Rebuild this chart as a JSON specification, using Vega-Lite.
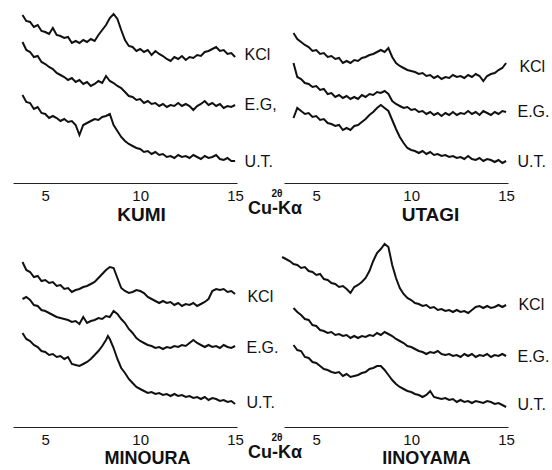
{
  "$schema": "https://vega.github.io/schema/vega-lite/v6.json",
  "padding": {"left": 13, "top": 5, "right": 0, "bottom": 0},
  "background": "white",
  "bounds": "flush",
  "columns": 2,
  "spacing": {"row": 66, "column": 47},
  "config": {
    "view": {"stroke": null},
    "font": "Liberation Sans",
    "axisX": {
      "ticks": false,
      "grid": false,
      "domainColor": "#222",
      "domainWidth": 1.2,
      "labelFontSize": 15,
      "labelColor": "#111",
      "labelPadding": 5,
      "titleFontSize": 19,
      "titleFontWeight": "bold",
      "titleColor": "#111",
      "titleBaseline": "top",
      "titleAlign": "center",
      "titleAnchor": "start"
    }
  },
  "datasets": {
    "kumi": [
      {"t":"KCl","x":3.8,"y":168},{"t":"KCl","x":4.0,"y":162},{"t":"KCl","x":4.2,"y":161},{"t":"KCl","x":4.4,"y":156},{"t":"KCl","x":4.6,"y":158},{"t":"KCl","x":4.8,"y":152},{"t":"KCl","x":5.0,"y":151},{"t":"KCl","x":5.2,"y":149},{"t":"KCl","x":5.4,"y":155},{"t":"KCl","x":5.6,"y":148},{"t":"KCl","x":5.8,"y":147},{"t":"KCl","x":6.0,"y":145},{"t":"KCl","x":6.2,"y":146},{"t":"KCl","x":6.4,"y":140},{"t":"KCl","x":6.6,"y":142},{"t":"KCl","x":6.8,"y":140},{"t":"KCl","x":7.0,"y":143},{"t":"KCl","x":7.2,"y":141},{"t":"KCl","x":7.4,"y":144},{"t":"KCl","x":7.6,"y":142},{"t":"KCl","x":7.8,"y":148},{"t":"KCl","x":8.0,"y":153},{"t":"KCl","x":8.2,"y":158},{"t":"KCl","x":8.4,"y":165},{"t":"KCl","x":8.6,"y":169},{"t":"KCl","x":8.8,"y":164},{"t":"KCl","x":9.0,"y":153},{"t":"KCl","x":9.2,"y":143},{"t":"KCl","x":9.4,"y":137},{"t":"KCl","x":9.6,"y":136},{"t":"KCl","x":9.8,"y":132},{"t":"KCl","x":10.0,"y":134},{"t":"KCl","x":10.2,"y":131},{"t":"KCl","x":10.4,"y":133},{"t":"KCl","x":10.6,"y":128},{"t":"KCl","x":10.8,"y":132},{"t":"KCl","x":11.0,"y":129},{"t":"KCl","x":11.2,"y":127},{"t":"KCl","x":11.4,"y":124},{"t":"KCl","x":11.6,"y":122},{"t":"KCl","x":11.8,"y":126},{"t":"KCl","x":12.0,"y":124},{"t":"KCl","x":12.2,"y":127},{"t":"KCl","x":12.4,"y":123},{"t":"KCl","x":12.6,"y":126},{"t":"KCl","x":12.8,"y":125},{"t":"KCl","x":13.0,"y":128},{"t":"KCl","x":13.2,"y":127},{"t":"KCl","x":13.4,"y":131},{"t":"KCl","x":13.6,"y":132},{"t":"KCl","x":13.8,"y":134},{"t":"KCl","x":14.0,"y":136},{"t":"KCl","x":14.2,"y":132},{"t":"KCl","x":14.4,"y":133},{"t":"KCl","x":14.6,"y":129},{"t":"KCl","x":14.8,"y":130},{"t":"KCl","x":15.0,"y":126},
      {"t":"EG","x":3.8,"y":141},{"t":"EG","x":4.0,"y":133},{"t":"EG","x":4.2,"y":131},{"t":"EG","x":4.4,"y":126},{"t":"EG","x":4.6,"y":127},{"t":"EG","x":4.8,"y":121},{"t":"EG","x":5.0,"y":119},{"t":"EG","x":5.2,"y":116},{"t":"EG","x":5.4,"y":114},{"t":"EG","x":5.6,"y":110},{"t":"EG","x":5.8,"y":108},{"t":"EG","x":6.0,"y":106},{"t":"EG","x":6.2,"y":103},{"t":"EG","x":6.4,"y":105},{"t":"EG","x":6.6,"y":101},{"t":"EG","x":6.8,"y":103},{"t":"EG","x":7.0,"y":99},{"t":"EG","x":7.2,"y":101},{"t":"EG","x":7.4,"y":97},{"t":"EG","x":7.6,"y":99},{"t":"EG","x":7.8,"y":102},{"t":"EG","x":8.0,"y":100},{"t":"EG","x":8.2,"y":107},{"t":"EG","x":8.4,"y":102},{"t":"EG","x":8.6,"y":100},{"t":"EG","x":8.8,"y":97},{"t":"EG","x":9.0,"y":95},{"t":"EG","x":9.2,"y":91},{"t":"EG","x":9.4,"y":87},{"t":"EG","x":9.6,"y":86},{"t":"EG","x":9.8,"y":83},{"t":"EG","x":10.0,"y":84},{"t":"EG","x":10.2,"y":80},{"t":"EG","x":10.4,"y":82},{"t":"EG","x":10.6,"y":79},{"t":"EG","x":10.8,"y":80},{"t":"EG","x":11.0,"y":77},{"t":"EG","x":11.2,"y":79},{"t":"EG","x":11.4,"y":76},{"t":"EG","x":11.6,"y":78},{"t":"EG","x":11.8,"y":77},{"t":"EG","x":12.0,"y":80},{"t":"EG","x":12.2,"y":77},{"t":"EG","x":12.4,"y":79},{"t":"EG","x":12.6,"y":77},{"t":"EG","x":12.8,"y":73},{"t":"EG","x":13.0,"y":77},{"t":"EG","x":13.2,"y":79},{"t":"EG","x":13.4,"y":82},{"t":"EG","x":13.6,"y":78},{"t":"EG","x":13.8,"y":80},{"t":"EG","x":14.0,"y":77},{"t":"EG","x":14.2,"y":79},{"t":"EG","x":14.4,"y":75},{"t":"EG","x":14.6,"y":77},{"t":"EG","x":14.8,"y":76},{"t":"EG","x":15.0,"y":78},
      {"t":"UT","x":3.8,"y":88},{"t":"UT","x":4.0,"y":81},{"t":"UT","x":4.2,"y":80},{"t":"UT","x":4.4,"y":74},{"t":"UT","x":4.6,"y":76},{"t":"UT","x":4.8,"y":70},{"t":"UT","x":5.0,"y":69},{"t":"UT","x":5.2,"y":65},{"t":"UT","x":5.4,"y":67},{"t":"UT","x":5.6,"y":65},{"t":"UT","x":5.8,"y":62},{"t":"UT","x":6.0,"y":64},{"t":"UT","x":6.2,"y":61},{"t":"UT","x":6.4,"y":62},{"t":"UT","x":6.6,"y":58},{"t":"UT","x":6.8,"y":48},{"t":"UT","x":7.0,"y":58},{"t":"UT","x":7.2,"y":60},{"t":"UT","x":7.4,"y":62},{"t":"UT","x":7.6,"y":64},{"t":"UT","x":7.8,"y":63},{"t":"UT","x":8.0,"y":66},{"t":"UT","x":8.2,"y":67},{"t":"UT","x":8.4,"y":69},{"t":"UT","x":8.6,"y":58},{"t":"UT","x":8.8,"y":52},{"t":"UT","x":9.0,"y":46},{"t":"UT","x":9.2,"y":42},{"t":"UT","x":9.4,"y":39},{"t":"UT","x":9.6,"y":37},{"t":"UT","x":9.8,"y":35},{"t":"UT","x":10.0,"y":34},{"t":"UT","x":10.2,"y":31},{"t":"UT","x":10.4,"y":32},{"t":"UT","x":10.6,"y":29},{"t":"UT","x":10.8,"y":31},{"t":"UT","x":11.0,"y":28},{"t":"UT","x":11.2,"y":29},{"t":"UT","x":11.4,"y":26},{"t":"UT","x":11.6,"y":27},{"t":"UT","x":11.8,"y":25},{"t":"UT","x":12.0,"y":28},{"t":"UT","x":12.2,"y":26},{"t":"UT","x":12.4,"y":27},{"t":"UT","x":12.6,"y":25},{"t":"UT","x":12.8,"y":28},{"t":"UT","x":13.0,"y":26},{"t":"UT","x":13.2,"y":24},{"t":"UT","x":13.4,"y":27},{"t":"UT","x":13.6,"y":25},{"t":"UT","x":13.8,"y":26},{"t":"UT","x":14.0,"y":28},{"t":"UT","x":14.2,"y":24},{"t":"UT","x":14.4,"y":23},{"t":"UT","x":14.6,"y":25},{"t":"UT","x":14.8,"y":22},{"t":"UT","x":15.0,"y":22}
    ],
    "utagi": [
      {"t":"KCl","x":3.8,"y":150},{"t":"KCl","x":4.0,"y":144},{"t":"KCl","x":4.2,"y":141},{"t":"KCl","x":4.4,"y":138},{"t":"KCl","x":4.6,"y":136},{"t":"KCl","x":4.8,"y":132},{"t":"KCl","x":5.0,"y":133},{"t":"KCl","x":5.2,"y":129},{"t":"KCl","x":5.4,"y":130},{"t":"KCl","x":5.6,"y":126},{"t":"KCl","x":5.8,"y":127},{"t":"KCl","x":6.0,"y":124},{"t":"KCl","x":6.2,"y":125},{"t":"KCl","x":6.4,"y":120},{"t":"KCl","x":6.6,"y":122},{"t":"KCl","x":6.8,"y":120},{"t":"KCl","x":7.0,"y":123},{"t":"KCl","x":7.2,"y":122},{"t":"KCl","x":7.4,"y":125},{"t":"KCl","x":7.6,"y":126},{"t":"KCl","x":7.8,"y":128},{"t":"KCl","x":8.0,"y":129},{"t":"KCl","x":8.2,"y":131},{"t":"KCl","x":8.4,"y":133},{"t":"KCl","x":8.6,"y":131},{"t":"KCl","x":8.8,"y":135},{"t":"KCl","x":9.0,"y":126},{"t":"KCl","x":9.2,"y":120},{"t":"KCl","x":9.4,"y":117},{"t":"KCl","x":9.6,"y":115},{"t":"KCl","x":9.8,"y":113},{"t":"KCl","x":10.0,"y":112},{"t":"KCl","x":10.2,"y":111},{"t":"KCl","x":10.4,"y":109},{"t":"KCl","x":10.6,"y":110},{"t":"KCl","x":10.8,"y":107},{"t":"KCl","x":11.0,"y":108},{"t":"KCl","x":11.2,"y":105},{"t":"KCl","x":11.4,"y":107},{"t":"KCl","x":11.6,"y":104},{"t":"KCl","x":11.8,"y":106},{"t":"KCl","x":12.0,"y":105},{"t":"KCl","x":12.2,"y":108},{"t":"KCl","x":12.4,"y":106},{"t":"KCl","x":12.6,"y":107},{"t":"KCl","x":12.8,"y":105},{"t":"KCl","x":13.0,"y":108},{"t":"KCl","x":13.2,"y":106},{"t":"KCl","x":13.4,"y":109},{"t":"KCl","x":13.6,"y":107},{"t":"KCl","x":13.8,"y":102},{"t":"KCl","x":14.0,"y":107},{"t":"KCl","x":14.2,"y":109},{"t":"KCl","x":14.4,"y":110},{"t":"KCl","x":14.6,"y":113},{"t":"KCl","x":14.8,"y":115},{"t":"KCl","x":15.0,"y":120},
      {"t":"EG","x":3.8,"y":120},{"t":"EG","x":4.0,"y":106},{"t":"EG","x":4.2,"y":104},{"t":"EG","x":4.4,"y":100},{"t":"EG","x":4.6,"y":99},{"t":"EG","x":4.8,"y":96},{"t":"EG","x":5.0,"y":97},{"t":"EG","x":5.2,"y":93},{"t":"EG","x":5.4,"y":94},{"t":"EG","x":5.6,"y":89},{"t":"EG","x":5.8,"y":90},{"t":"EG","x":6.0,"y":86},{"t":"EG","x":6.2,"y":88},{"t":"EG","x":6.4,"y":85},{"t":"EG","x":6.6,"y":87},{"t":"EG","x":6.8,"y":84},{"t":"EG","x":7.0,"y":86},{"t":"EG","x":7.2,"y":84},{"t":"EG","x":7.4,"y":88},{"t":"EG","x":7.6,"y":86},{"t":"EG","x":7.8,"y":89},{"t":"EG","x":8.0,"y":88},{"t":"EG","x":8.2,"y":91},{"t":"EG","x":8.4,"y":90},{"t":"EG","x":8.6,"y":92},{"t":"EG","x":8.8,"y":89},{"t":"EG","x":9.0,"y":82},{"t":"EG","x":9.2,"y":79},{"t":"EG","x":9.4,"y":77},{"t":"EG","x":9.6,"y":75},{"t":"EG","x":9.8,"y":76},{"t":"EG","x":10.0,"y":73},{"t":"EG","x":10.2,"y":74},{"t":"EG","x":10.4,"y":71},{"t":"EG","x":10.6,"y":72},{"t":"EG","x":10.8,"y":69},{"t":"EG","x":11.0,"y":71},{"t":"EG","x":11.2,"y":68},{"t":"EG","x":11.4,"y":70},{"t":"EG","x":11.6,"y":67},{"t":"EG","x":11.8,"y":70},{"t":"EG","x":12.0,"y":68},{"t":"EG","x":12.2,"y":71},{"t":"EG","x":12.4,"y":68},{"t":"EG","x":12.6,"y":70},{"t":"EG","x":12.8,"y":69},{"t":"EG","x":13.0,"y":72},{"t":"EG","x":13.2,"y":69},{"t":"EG","x":13.4,"y":71},{"t":"EG","x":13.6,"y":68},{"t":"EG","x":13.8,"y":72},{"t":"EG","x":14.0,"y":70},{"t":"EG","x":14.2,"y":68},{"t":"EG","x":14.4,"y":71},{"t":"EG","x":14.6,"y":69},{"t":"EG","x":14.8,"y":72},{"t":"EG","x":15.0,"y":71},
      {"t":"UT","x":3.8,"y":65},{"t":"UT","x":4.0,"y":75},{"t":"UT","x":4.2,"y":72},{"t":"UT","x":4.4,"y":69},{"t":"UT","x":4.6,"y":70},{"t":"UT","x":4.8,"y":66},{"t":"UT","x":5.0,"y":67},{"t":"UT","x":5.2,"y":63},{"t":"UT","x":5.4,"y":64},{"t":"UT","x":5.6,"y":60},{"t":"UT","x":5.8,"y":59},{"t":"UT","x":6.0,"y":57},{"t":"UT","x":6.2,"y":58},{"t":"UT","x":6.4,"y":53},{"t":"UT","x":6.6,"y":55},{"t":"UT","x":6.8,"y":53},{"t":"UT","x":7.0,"y":57},{"t":"UT","x":7.2,"y":58},{"t":"UT","x":7.4,"y":61},{"t":"UT","x":7.6,"y":64},{"t":"UT","x":7.8,"y":68},{"t":"UT","x":8.0,"y":71},{"t":"UT","x":8.2,"y":75},{"t":"UT","x":8.4,"y":78},{"t":"UT","x":8.6,"y":75},{"t":"UT","x":8.8,"y":72},{"t":"UT","x":9.0,"y":63},{"t":"UT","x":9.2,"y":54},{"t":"UT","x":9.4,"y":46},{"t":"UT","x":9.6,"y":40},{"t":"UT","x":9.8,"y":35},{"t":"UT","x":10.0,"y":33},{"t":"UT","x":10.2,"y":32},{"t":"UT","x":10.4,"y":30},{"t":"UT","x":10.6,"y":32},{"t":"UT","x":10.8,"y":29},{"t":"UT","x":11.0,"y":31},{"t":"UT","x":11.2,"y":28},{"t":"UT","x":11.4,"y":29},{"t":"UT","x":11.6,"y":27},{"t":"UT","x":11.8,"y":28},{"t":"UT","x":12.0,"y":26},{"t":"UT","x":12.2,"y":27},{"t":"UT","x":12.4,"y":25},{"t":"UT","x":12.6,"y":26},{"t":"UT","x":12.8,"y":24},{"t":"UT","x":13.0,"y":27},{"t":"UT","x":13.2,"y":24},{"t":"UT","x":13.4,"y":23},{"t":"UT","x":13.6,"y":25},{"t":"UT","x":13.8,"y":22},{"t":"UT","x":14.0,"y":24},{"t":"UT","x":14.2,"y":23},{"t":"UT","x":14.4,"y":21},{"t":"UT","x":14.6,"y":23},{"t":"UT","x":14.8,"y":20},{"t":"UT","x":15.0,"y":22}
    ],
    "minoura": [
      {"t":"KCl","x":3.8,"y":165},{"t":"KCl","x":4.0,"y":157},{"t":"KCl","x":4.2,"y":155},{"t":"KCl","x":4.4,"y":150},{"t":"KCl","x":4.6,"y":151},{"t":"KCl","x":4.8,"y":146},{"t":"KCl","x":5.0,"y":147},{"t":"KCl","x":5.2,"y":144},{"t":"KCl","x":5.4,"y":145},{"t":"KCl","x":5.6,"y":141},{"t":"KCl","x":5.8,"y":142},{"t":"KCl","x":6.0,"y":138},{"t":"KCl","x":6.2,"y":139},{"t":"KCl","x":6.4,"y":135},{"t":"KCl","x":6.6,"y":137},{"t":"KCl","x":6.8,"y":138},{"t":"KCl","x":7.0,"y":140},{"t":"KCl","x":7.2,"y":141},{"t":"KCl","x":7.4,"y":143},{"t":"KCl","x":7.6,"y":145},{"t":"KCl","x":7.8,"y":149},{"t":"KCl","x":8.0,"y":153},{"t":"KCl","x":8.2,"y":157},{"t":"KCl","x":8.4,"y":160},{"t":"KCl","x":8.6,"y":159},{"t":"KCl","x":8.8,"y":149},{"t":"KCl","x":9.0,"y":139},{"t":"KCl","x":9.2,"y":136},{"t":"KCl","x":9.4,"y":134},{"t":"KCl","x":9.6,"y":135},{"t":"KCl","x":9.8,"y":137},{"t":"KCl","x":10.0,"y":136},{"t":"KCl","x":10.2,"y":134},{"t":"KCl","x":10.4,"y":130},{"t":"KCl","x":10.6,"y":128},{"t":"KCl","x":10.8,"y":126},{"t":"KCl","x":11.0,"y":124},{"t":"KCl","x":11.2,"y":126},{"t":"KCl","x":11.4,"y":124},{"t":"KCl","x":11.6,"y":125},{"t":"KCl","x":11.8,"y":122},{"t":"KCl","x":12.0,"y":124},{"t":"KCl","x":12.2,"y":121},{"t":"KCl","x":12.4,"y":123},{"t":"KCl","x":12.6,"y":122},{"t":"KCl","x":12.8,"y":124},{"t":"KCl","x":13.0,"y":121},{"t":"KCl","x":13.2,"y":123},{"t":"KCl","x":13.4,"y":125},{"t":"KCl","x":13.6,"y":128},{"t":"KCl","x":13.8,"y":136},{"t":"KCl","x":14.0,"y":138},{"t":"KCl","x":14.2,"y":137},{"t":"KCl","x":14.4,"y":138},{"t":"KCl","x":14.6,"y":135},{"t":"KCl","x":14.8,"y":136},{"t":"KCl","x":15.0,"y":133},
      {"t":"EG","x":3.8,"y":128},{"t":"EG","x":4.0,"y":130},{"t":"EG","x":4.2,"y":127},{"t":"EG","x":4.4,"y":122},{"t":"EG","x":4.6,"y":121},{"t":"EG","x":4.8,"y":117},{"t":"EG","x":5.0,"y":116},{"t":"EG","x":5.2,"y":114},{"t":"EG","x":5.4,"y":112},{"t":"EG","x":5.6,"y":110},{"t":"EG","x":5.8,"y":109},{"t":"EG","x":6.0,"y":108},{"t":"EG","x":6.2,"y":107},{"t":"EG","x":6.4,"y":105},{"t":"EG","x":6.6,"y":106},{"t":"EG","x":6.8,"y":103},{"t":"EG","x":7.0,"y":110},{"t":"EG","x":7.2,"y":104},{"t":"EG","x":7.4,"y":106},{"t":"EG","x":7.6,"y":107},{"t":"EG","x":7.8,"y":109},{"t":"EG","x":8.0,"y":108},{"t":"EG","x":8.2,"y":111},{"t":"EG","x":8.4,"y":110},{"t":"EG","x":8.6,"y":116},{"t":"EG","x":8.8,"y":113},{"t":"EG","x":9.0,"y":108},{"t":"EG","x":9.2,"y":104},{"t":"EG","x":9.4,"y":98},{"t":"EG","x":9.6,"y":94},{"t":"EG","x":9.8,"y":89},{"t":"EG","x":10.0,"y":86},{"t":"EG","x":10.2,"y":84},{"t":"EG","x":10.4,"y":82},{"t":"EG","x":10.6,"y":81},{"t":"EG","x":10.8,"y":79},{"t":"EG","x":11.0,"y":80},{"t":"EG","x":11.2,"y":78},{"t":"EG","x":11.4,"y":80},{"t":"EG","x":11.6,"y":79},{"t":"EG","x":11.8,"y":81},{"t":"EG","x":12.0,"y":80},{"t":"EG","x":12.2,"y":82},{"t":"EG","x":12.4,"y":81},{"t":"EG","x":12.6,"y":84},{"t":"EG","x":12.8,"y":87},{"t":"EG","x":13.0,"y":84},{"t":"EG","x":13.2,"y":82},{"t":"EG","x":13.4,"y":80},{"t":"EG","x":13.6,"y":82},{"t":"EG","x":13.8,"y":80},{"t":"EG","x":14.0,"y":81},{"t":"EG","x":14.2,"y":79},{"t":"EG","x":14.4,"y":82},{"t":"EG","x":14.6,"y":80},{"t":"EG","x":14.8,"y":79},{"t":"EG","x":15.0,"y":81},
      {"t":"UT","x":3.8,"y":94},{"t":"UT","x":4.0,"y":88},{"t":"UT","x":4.2,"y":86},{"t":"UT","x":4.4,"y":82},{"t":"UT","x":4.6,"y":80},{"t":"UT","x":4.8,"y":76},{"t":"UT","x":5.0,"y":75},{"t":"UT","x":5.2,"y":72},{"t":"UT","x":5.4,"y":73},{"t":"UT","x":5.6,"y":70},{"t":"UT","x":5.8,"y":71},{"t":"UT","x":6.0,"y":68},{"t":"UT","x":6.2,"y":70},{"t":"UT","x":6.4,"y":63},{"t":"UT","x":6.6,"y":62},{"t":"UT","x":6.8,"y":61},{"t":"UT","x":7.0,"y":63},{"t":"UT","x":7.2,"y":65},{"t":"UT","x":7.4,"y":68},{"t":"UT","x":7.6,"y":72},{"t":"UT","x":7.8,"y":76},{"t":"UT","x":8.0,"y":81},{"t":"UT","x":8.2,"y":87},{"t":"UT","x":8.3,"y":91},{"t":"UT","x":8.4,"y":88},{"t":"UT","x":8.6,"y":79},{"t":"UT","x":8.8,"y":68},{"t":"UT","x":9.0,"y":59},{"t":"UT","x":9.2,"y":54},{"t":"UT","x":9.4,"y":48},{"t":"UT","x":9.6,"y":44},{"t":"UT","x":9.8,"y":40},{"t":"UT","x":10.0,"y":38},{"t":"UT","x":10.2,"y":36},{"t":"UT","x":10.4,"y":34},{"t":"UT","x":10.6,"y":35},{"t":"UT","x":10.8,"y":33},{"t":"UT","x":11.0,"y":34},{"t":"UT","x":11.2,"y":32},{"t":"UT","x":11.4,"y":33},{"t":"UT","x":11.6,"y":31},{"t":"UT","x":11.8,"y":33},{"t":"UT","x":12.0,"y":31},{"t":"UT","x":12.2,"y":32},{"t":"UT","x":12.4,"y":30},{"t":"UT","x":12.6,"y":31},{"t":"UT","x":12.8,"y":29},{"t":"UT","x":13.0,"y":30},{"t":"UT","x":13.2,"y":28},{"t":"UT","x":13.4,"y":30},{"t":"UT","x":13.6,"y":27},{"t":"UT","x":13.8,"y":29},{"t":"UT","x":14.0,"y":28},{"t":"UT","x":14.2,"y":26},{"t":"UT","x":14.4,"y":27},{"t":"UT","x":14.6,"y":25},{"t":"UT","x":14.8,"y":26},{"t":"UT","x":15.0,"y":23}
    ],
    "iinoyama": [
      {"t":"KCl","x":3.2,"y":170},{"t":"KCl","x":3.4,"y":168},{"t":"KCl","x":3.6,"y":166},{"t":"KCl","x":3.8,"y":163},{"t":"KCl","x":4.0,"y":162},{"t":"KCl","x":4.2,"y":159},{"t":"KCl","x":4.4,"y":160},{"t":"KCl","x":4.6,"y":156},{"t":"KCl","x":4.8,"y":155},{"t":"KCl","x":5.0,"y":152},{"t":"KCl","x":5.2,"y":153},{"t":"KCl","x":5.4,"y":148},{"t":"KCl","x":5.6,"y":147},{"t":"KCl","x":5.8,"y":144},{"t":"KCl","x":6.0,"y":143},{"t":"KCl","x":6.2,"y":140},{"t":"KCl","x":6.4,"y":141},{"t":"KCl","x":6.6,"y":138},{"t":"KCl","x":6.8,"y":134},{"t":"KCl","x":7.0,"y":140},{"t":"KCl","x":7.2,"y":142},{"t":"KCl","x":7.4,"y":145},{"t":"KCl","x":7.6,"y":149},{"t":"KCl","x":7.8,"y":156},{"t":"KCl","x":8.0,"y":166},{"t":"KCl","x":8.2,"y":174},{"t":"KCl","x":8.4,"y":178},{"t":"KCl","x":8.6,"y":183},{"t":"KCl","x":8.8,"y":180},{"t":"KCl","x":9.0,"y":162},{"t":"KCl","x":9.2,"y":149},{"t":"KCl","x":9.4,"y":139},{"t":"KCl","x":9.6,"y":133},{"t":"KCl","x":9.8,"y":129},{"t":"KCl","x":10.0,"y":127},{"t":"KCl","x":10.2,"y":124},{"t":"KCl","x":10.4,"y":123},{"t":"KCl","x":10.6,"y":121},{"t":"KCl","x":10.8,"y":122},{"t":"KCl","x":11.0,"y":119},{"t":"KCl","x":11.2,"y":120},{"t":"KCl","x":11.4,"y":117},{"t":"KCl","x":11.6,"y":118},{"t":"KCl","x":11.8,"y":116},{"t":"KCl","x":12.0,"y":117},{"t":"KCl","x":12.2,"y":115},{"t":"KCl","x":12.4,"y":117},{"t":"KCl","x":12.6,"y":115},{"t":"KCl","x":12.8,"y":116},{"t":"KCl","x":13.0,"y":114},{"t":"KCl","x":13.2,"y":117},{"t":"KCl","x":13.4,"y":120},{"t":"KCl","x":13.6,"y":121},{"t":"KCl","x":13.8,"y":119},{"t":"KCl","x":14.0,"y":121},{"t":"KCl","x":14.2,"y":119},{"t":"KCl","x":14.4,"y":120},{"t":"KCl","x":14.6,"y":122},{"t":"KCl","x":14.8,"y":120},{"t":"KCl","x":15.0,"y":122},
      {"t":"EG","x":3.8,"y":119},{"t":"EG","x":4.0,"y":115},{"t":"EG","x":4.2,"y":112},{"t":"EG","x":4.4,"y":108},{"t":"EG","x":4.6,"y":107},{"t":"EG","x":4.8,"y":102},{"t":"EG","x":5.0,"y":101},{"t":"EG","x":5.2,"y":97},{"t":"EG","x":5.4,"y":96},{"t":"EG","x":5.6,"y":94},{"t":"EG","x":5.8,"y":95},{"t":"EG","x":6.0,"y":92},{"t":"EG","x":6.2,"y":93},{"t":"EG","x":6.4,"y":91},{"t":"EG","x":6.6,"y":92},{"t":"EG","x":6.8,"y":89},{"t":"EG","x":7.0,"y":91},{"t":"EG","x":7.2,"y":89},{"t":"EG","x":7.4,"y":91},{"t":"EG","x":7.6,"y":90},{"t":"EG","x":7.8,"y":92},{"t":"EG","x":8.0,"y":91},{"t":"EG","x":8.2,"y":94},{"t":"EG","x":8.4,"y":92},{"t":"EG","x":8.6,"y":95},{"t":"EG","x":8.8,"y":93},{"t":"EG","x":9.0,"y":91},{"t":"EG","x":9.2,"y":88},{"t":"EG","x":9.4,"y":86},{"t":"EG","x":9.6,"y":84},{"t":"EG","x":9.8,"y":81},{"t":"EG","x":10.0,"y":80},{"t":"EG","x":10.2,"y":78},{"t":"EG","x":10.4,"y":76},{"t":"EG","x":10.6,"y":75},{"t":"EG","x":10.8,"y":73},{"t":"EG","x":11.0,"y":75},{"t":"EG","x":11.2,"y":74},{"t":"EG","x":11.4,"y":76},{"t":"EG","x":11.6,"y":73},{"t":"EG","x":11.8,"y":72},{"t":"EG","x":12.0,"y":73},{"t":"EG","x":12.2,"y":71},{"t":"EG","x":12.4,"y":72},{"t":"EG","x":12.6,"y":70},{"t":"EG","x":12.8,"y":73},{"t":"EG","x":13.0,"y":71},{"t":"EG","x":13.2,"y":73},{"t":"EG","x":13.4,"y":70},{"t":"EG","x":13.6,"y":72},{"t":"EG","x":13.8,"y":71},{"t":"EG","x":14.0,"y":73},{"t":"EG","x":14.2,"y":70},{"t":"EG","x":14.4,"y":72},{"t":"EG","x":14.6,"y":71},{"t":"EG","x":14.8,"y":73},{"t":"EG","x":15.0,"y":71},
      {"t":"UT","x":3.8,"y":82},{"t":"UT","x":4.0,"y":77},{"t":"UT","x":4.2,"y":76},{"t":"UT","x":4.4,"y":70},{"t":"UT","x":4.6,"y":69},{"t":"UT","x":4.8,"y":65},{"t":"UT","x":5.0,"y":64},{"t":"UT","x":5.2,"y":61},{"t":"UT","x":5.4,"y":58},{"t":"UT","x":5.6,"y":57},{"t":"UT","x":5.8,"y":55},{"t":"UT","x":6.0,"y":54},{"t":"UT","x":6.2,"y":55},{"t":"UT","x":6.4,"y":51},{"t":"UT","x":6.6,"y":53},{"t":"UT","x":6.8,"y":50},{"t":"UT","x":7.0,"y":51},{"t":"UT","x":7.2,"y":52},{"t":"UT","x":7.4,"y":54},{"t":"UT","x":7.6,"y":55},{"t":"UT","x":7.8,"y":58},{"t":"UT","x":8.0,"y":59},{"t":"UT","x":8.2,"y":61},{"t":"UT","x":8.4,"y":61},{"t":"UT","x":8.6,"y":57},{"t":"UT","x":8.8,"y":52},{"t":"UT","x":9.0,"y":47},{"t":"UT","x":9.2,"y":43},{"t":"UT","x":9.4,"y":40},{"t":"UT","x":9.6,"y":38},{"t":"UT","x":9.8,"y":36},{"t":"UT","x":10.0,"y":35},{"t":"UT","x":10.2,"y":33},{"t":"UT","x":10.4,"y":32},{"t":"UT","x":10.6,"y":30},{"t":"UT","x":10.8,"y":32},{"t":"UT","x":11.0,"y":36},{"t":"UT","x":11.2,"y":30},{"t":"UT","x":11.4,"y":29},{"t":"UT","x":11.6,"y":28},{"t":"UT","x":11.8,"y":29},{"t":"UT","x":12.0,"y":27},{"t":"UT","x":12.2,"y":28},{"t":"UT","x":12.4,"y":25},{"t":"UT","x":12.6,"y":27},{"t":"UT","x":12.8,"y":25},{"t":"UT","x":13.0,"y":26},{"t":"UT","x":13.2,"y":24},{"t":"UT","x":13.4,"y":26},{"t":"UT","x":13.6,"y":25},{"t":"UT","x":13.8,"y":24},{"t":"UT","x":14.0,"y":26},{"t":"UT","x":14.2,"y":25},{"t":"UT","x":14.4,"y":23},{"t":"UT","x":14.6,"y":24},{"t":"UT","x":14.8,"y":22},{"t":"UT","x":15.0,"y":20}
    ],
    "kumiLab": [{"label":"KCl","x":15.5,"y":128},{"label":"E.G,","x":15.5,"y":78},{"label":"U.T.","x":15.5,"y":21}],
    "utagiLab": [{"label":"KCl","x":15.7,"y":116},{"label":"E.G.","x":15.6,"y":71},{"label":"U.T.","x":15.6,"y":21}],
    "minouraLab": [{"label":"KCl","x":15.65,"y":130},{"label":"E.G.","x":15.6,"y":79},{"label":"U.T.","x":15.6,"y":24}],
    "iinoyamaLab": [{"label":"KCl","x":15.65,"y":122},{"label":"E.G.","x":15.6,"y":70},{"label":"U.T.","x":15.6,"y":22}],
    "twoTheta": [{"label":"2θ","x":17.2,"y":-11}],
    "cuKa": [{"label":"Cu-Kα","x":17.1,"y":-26}]
  },
  "concat": [
    {
      "width": 224, "height": 178,
      "encoding": {
        "x": {"field": "x", "type": "quantitative", "scale": {"domain": [3.3, 15.1], "nice": false, "zero": false}, "axis": {"values": [5, 10, 15], "title": "KUMI", "titleX": 128, "titleY": 22}},
        "y": {"field": "y", "type": "quantitative", "scale": {"domain": [0, 178], "nice": false, "zero": false}, "axis": null}
      },
      "layer": [
        {"data": {"name": "kumi"}, "mark": {"type": "line", "color": "#111", "strokeWidth": 2}, "encoding": {"detail": {"field": "t"}}},
        {"data": {"name": "kumiLab"}, "mark": {"type": "text", "align": "left", "baseline": "middle", "fontSize": 16, "color": "#111"}, "encoding": {"text": {"field": "label"}}},
        {"data": {"name": "twoTheta"}, "mark": {"type": "text", "align": "center", "baseline": "middle", "fontSize": 10, "fontWeight": "bold", "color": "#111"}, "encoding": {"text": {"field": "label"}}},
        {"data": {"name": "cuKa"}, "mark": {"type": "text", "align": "center", "baseline": "middle", "fontSize": 18, "fontWeight": "bold", "color": "#111"}, "encoding": {"text": {"field": "label"}}}
      ]
    },
    {
      "width": 224, "height": 178,
      "encoding": {
        "x": {"field": "x", "type": "quantitative", "scale": {"domain": [3.3, 15.1], "nice": false, "zero": false}, "axis": {"values": [5, 10, 15], "title": "UTAGI", "titleX": 146, "titleY": 22}},
        "y": {"field": "y", "type": "quantitative", "scale": {"domain": [0, 178], "nice": false, "zero": false}, "axis": null}
      },
      "layer": [
        {"data": {"name": "utagi"}, "mark": {"type": "line", "color": "#111", "strokeWidth": 2}, "encoding": {"detail": {"field": "t"}}},
        {"data": {"name": "utagiLab"}, "mark": {"type": "text", "align": "left", "baseline": "middle", "fontSize": 16, "color": "#111"}, "encoding": {"text": {"field": "label"}}}
      ]
    },
    {
      "width": 224, "height": 178,
      "encoding": {
        "x": {"field": "x", "type": "quantitative", "scale": {"domain": [3.3, 15.1], "nice": false, "zero": false}, "axis": {"values": [5, 10, 15], "title": "MINOURA", "titleX": 134, "titleY": 22, "titleFontSize": 18}},
        "y": {"field": "y", "type": "quantitative", "scale": {"domain": [0, 178], "nice": false, "zero": false}, "axis": null}
      },
      "layer": [
        {"data": {"name": "minoura"}, "mark": {"type": "line", "color": "#111", "strokeWidth": 2}, "encoding": {"detail": {"field": "t"}}},
        {"data": {"name": "minouraLab"}, "mark": {"type": "text", "align": "left", "baseline": "middle", "fontSize": 16, "color": "#111"}, "encoding": {"text": {"field": "label"}}},
        {"data": {"name": "twoTheta"}, "mark": {"type": "text", "align": "center", "baseline": "middle", "fontSize": 10, "fontWeight": "bold", "color": "#111"}, "encoding": {"text": {"field": "label"}}},
        {"data": {"name": "cuKa"}, "mark": {"type": "text", "align": "center", "baseline": "middle", "fontSize": 18, "fontWeight": "bold", "color": "#111"}, "encoding": {"text": {"field": "label"}}}
      ]
    },
    {
      "width": 224, "height": 178,
      "encoding": {
        "x": {"field": "x", "type": "quantitative", "scale": {"domain": [3.3, 15.1], "nice": false, "zero": false}, "axis": {"values": [5, 10, 15], "title": "IINOYAMA", "titleX": 142, "titleY": 22, "titleFontSize": 18}},
        "y": {"field": "y", "type": "quantitative", "scale": {"domain": [0, 178], "nice": false, "zero": false}, "axis": null}
      },
      "layer": [
        {"data": {"name": "iinoyama"}, "mark": {"type": "line", "color": "#111", "strokeWidth": 2}, "encoding": {"detail": {"field": "t"}}},
        {"data": {"name": "iinoyamaLab"}, "mark": {"type": "text", "align": "left", "baseline": "middle", "fontSize": 16, "color": "#111"}, "encoding": {"text": {"field": "label"}}}
      ]
    }
  ]
}
